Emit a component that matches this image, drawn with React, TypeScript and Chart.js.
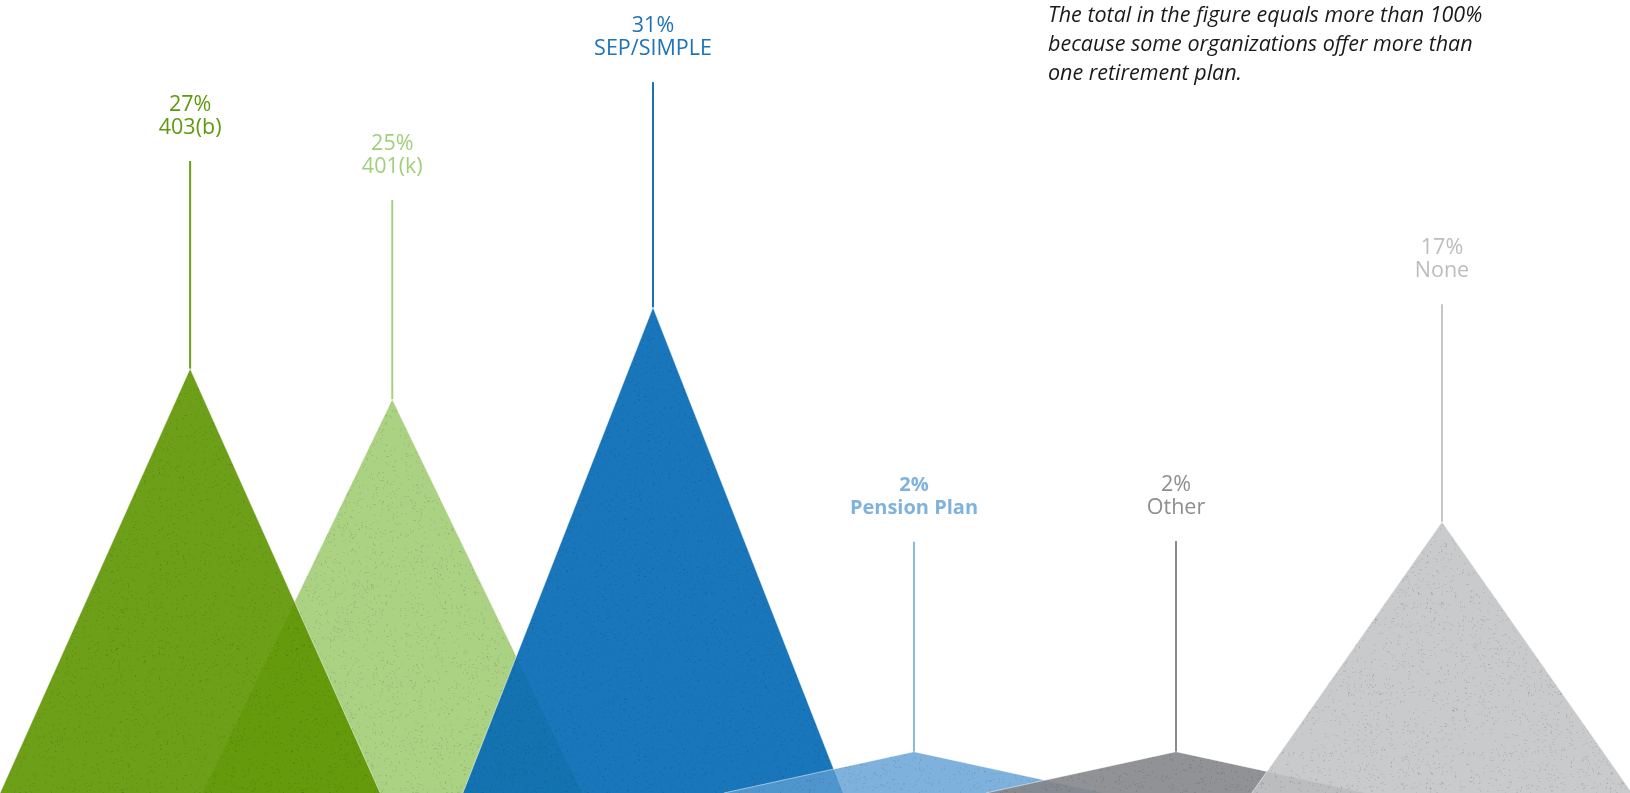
import React, { useEffect, useRef } from "react";
import { Chart, registerables } from "chart.js";

Chart.register(...registerables);

// ---- data ----
const categories = ["403(b)", "401(k)", "SEP/SIMPLE", "Pension Plan", "Other", "None"];
const values = [27, 25, 31, 2, 2, 17];
const percentLabels = ["27%", "25%", "31%", "2%", "2%", "17%"];
const noteLines = [
  "The total in the figure equals more than 100%",
  "because some organizations offer more than",
  "one retirement plan.",
];

// ---- layout (scale units) ----
const X_MAX = 6.233;
const Y_MIN = -0.7;
const Y_MAX = 51.06;
const BASE_HALF = 0.727;
const PEAK_POS = [0.727, 1.5, 2.497, 3.495, 4.497, 5.514];
const STEM_TOPS = [40.55, 38.0, 45.7, 15.7, 15.75, 31.2];
const TRI_ORDER = [5, 6, 4, 3, 2, 1];

// ---- styles ----
const FILLS = [
  "rgba(94,149,0,0.9)",
  "rgba(161,205,116,0.9)",
  "rgba(7,106,181,0.92)",
  "rgba(94,159,211,0.8)",
  "rgba(133,134,138,0.9)",
  "rgba(194,195,197,0.88)",
];
const STEM_COLORS = ["#6a9e1b", "#a9d07f", "#1a71b6", "#88bbe2", "#8b8b8d", "#c6c6c6"];
const LABEL_COLORS = ["#5f9a0e", "#a3cf7b", "#1f73b7", "#7fb3dd", "#8e8e90", "#bdbdbd"];

function makePattern(rgba: string, seed: number): CanvasPattern | string {
  const size = 180;
  const c = document.createElement("canvas");
  c.width = size;
  c.height = size;
  const ctx = c.getContext("2d");
  if (!ctx) return rgba;
  ctx.fillStyle = rgba;
  ctx.fillRect(0, 0, size, size);
  let s = seed * 7919 + 12345;
  const next = () => {
    s = (s * 1664525 + 1013904223) % 4294967296;
    return s / 4294967296;
  };
  ctx.fillStyle = "rgba(0,0,0,0.08)";
  for (let i = 0; i < 1100; i++) {
    const x = Math.floor(next() * size);
    const y = Math.floor(next() * size);
    ctx.fillRect(x, y, 1, 1);
    if (next() < 0.5) ctx.fillRect(x + 1, y, 1, 1);
    else ctx.fillRect(x, y + 1, 1, 1);
  }
  return ctx.createPattern(c, "repeat") || rgba;
}

const labelPlugin = {
  id: "peakLabels",
  afterDraw(chart: any) {
    const ctx = chart.ctx;
    const xs = chart.scales.x;
    const ys = chart.scales.y;
    categories.forEach((cat, i) => {
      const x = xs.getPixelForValue(PEAK_POS[i]);
      const top = ys.getPixelForValue(STEM_TOPS[i]);
      ctx.save();
      ctx.fillStyle = LABEL_COLORS[i];
      ctx.textAlign = "center";
      ctx.textBaseline = "middle";
      ctx.font = i === 3 ? '700 20px "Open Sans"' : '21.5px "Open Sans"';
      ctx.fillText(percentLabels[i], x, top - 56);
      ctx.fillText(cat, x, top - 33);
      ctx.restore();
    });
  },
};

export default function App() {
  const canvasRef = useRef<HTMLCanvasElement | null>(null);

  useEffect(() => {
    document.body.style.margin = "0";
    const canvas = canvasRef.current;
    if (!canvas) return;

    const datasets: any[] = [];
    categories.forEach((cat, i) => {
      const c = PEAK_POS[i];
      datasets.push({
        label: cat,
        data: [
          { x: c - BASE_HALF, y: Y_MIN },
          { x: c, y: values[i] },
          { x: c + BASE_HALF, y: Y_MIN },
        ],
        backgroundColor: makePattern(FILLS[i], i + 1),
        borderColor: "rgba(255,255,255,0.5)",
        borderWidth: 1,
        fill: "start",
        pointRadius: 0,
        tension: 0,
        order: TRI_ORDER[i],
      });
    });
    categories.forEach((cat, i) => {
      datasets.push({
        label: cat + " stem",
        data: [
          { x: PEAK_POS[i], y: values[i] },
          { x: PEAK_POS[i], y: STEM_TOPS[i] },
        ],
        borderColor: STEM_COLORS[i],
        borderWidth: 2,
        fill: false,
        pointRadius: 0,
        order: 0,
      });
    });

    const chart = new Chart(canvas, {
      type: "line",
      data: { datasets },
      options: {
        animation: false,
        responsive: false,
        maintainAspectRatio: false,
        devicePixelRatio: 1,
        events: [],
        layout: { padding: 0 },
        plugins: {
          legend: { display: false },
          tooltip: { enabled: false },
          title: { display: false },
        },
        scales: {
          x: { type: "linear", min: 0, max: X_MAX, display: false },
          y: { type: "linear", min: Y_MIN, max: Y_MAX, display: false },
        },
      } as any,
      plugins: [labelPlugin],
    });
    return () => chart.destroy();
  }, []);

  return (
    <div style={{ position: "relative", width: 1630, height: 793, background: "#fff", overflow: "hidden" }}>
      <canvas ref={canvasRef} width={1630} height={793} style={{ display: "block", width: 1630, height: 793 }} />
      <div
        style={{
          position: "absolute",
          left: 1048,
          top: -1,
          fontFamily: '"Open Sans", sans-serif',
          fontStyle: "italic",
          fontSize: 21.5,
          lineHeight: "29px",
          color: "#1a1a1a",
          whiteSpace: "nowrap",
        }}
      >
        {noteLines.map((l, i) => (
          <div key={i}>{l}</div>
        ))}
      </div>
    </div>
  );
}
